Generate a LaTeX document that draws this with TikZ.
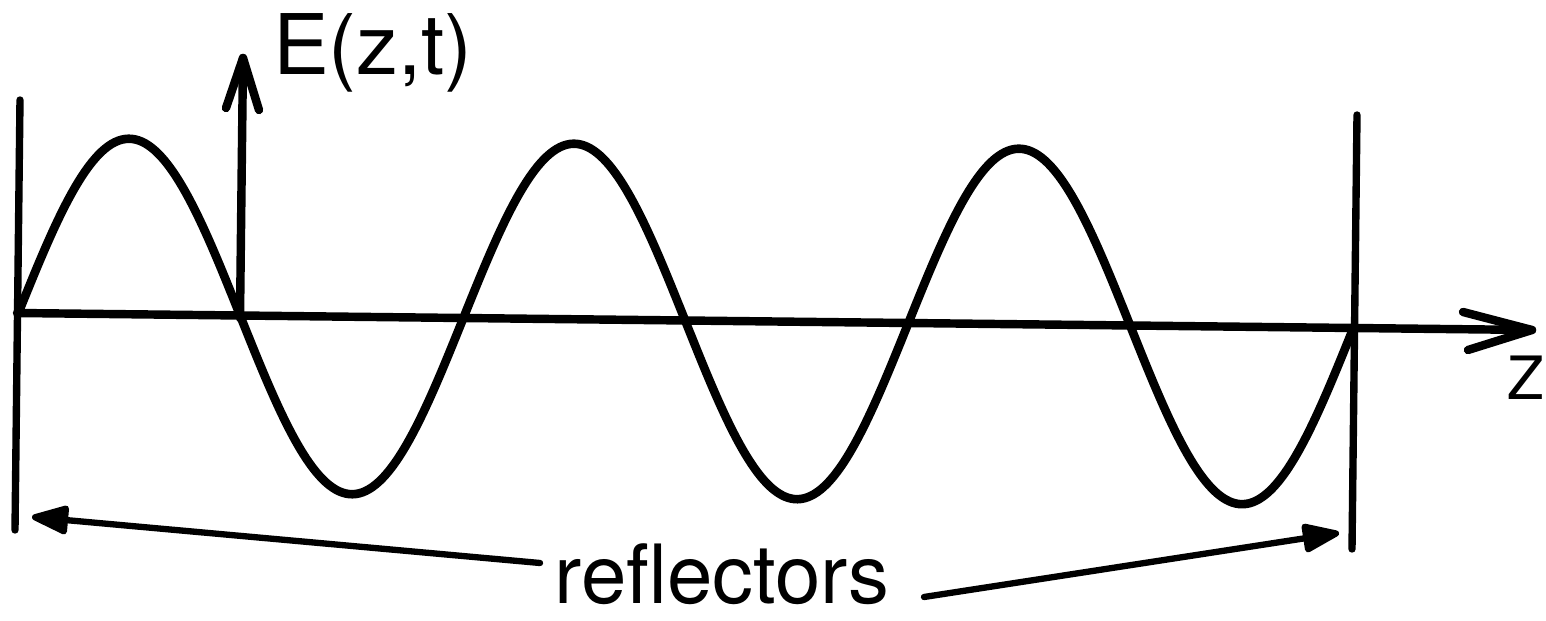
\documentclass[tikz,border=0pt]{standalone}
\usepackage{fontspec}
\setmainfont{TeX Gyre Heros}
\usetikzlibrary{arrows.meta}
\tikzset{
  ink/.style={line cap=round, line join=round, draw=black},
  axisline/.style={ink, line width=4.8pt},
  reflline/.style={ink, line width=4.2pt},
  waveline/.style={ink, line width=4.9pt},
  pointer/.style={ink, line width=3.6pt, -{Triangle[length=0.85cm,width=0.6cm,round]}},
  lbl/.style={inner sep=0pt, outer sep=0pt},
}
\begin{document}
\begin{tikzpicture}[x=0.02cm, y=-0.02cm]
\useasboundingbox (0,0) rectangle (1546,621);
% reflectors
\coordinate (rlTop) at (20,100);
\coordinate (rlBot) at (15,530);
\coordinate (rrTop) at (1357,115);
\coordinate (rrBot) at (1352,549);
\draw[reflline] (rlTop) -- (rlBot);
\draw[reflline] (rrTop) -- (rrBot);
% z axis
\coordinate (zStart) at (17,313);
\coordinate (zTip) at (1532,330);
\coordinate (zBarbA) at (1463,312);
\coordinate (zBarbB) at (1468,350);
\draw[axisline] (zStart) -- (zTip);
\draw[axisline] (zBarbA) -- (zTip) -- (zBarbB);
% E axis
\coordinate (eStart) at (240,318);
\coordinate (eTip) at (243,58);
\coordinate (eBarbA) at (226,108);
\coordinate (eBarbB) at (259,110);
\draw[axisline] (eStart) -- (eTip);
\draw[axisline] (eBarbA) -- (eTip) -- (eBarbB);
% wave
\draw[waveline] plot[domain=18:1353, samples=400, smooth]
  (\x, {314 + 0.0112*(\x-18) - 176.5*sin(0.80899*(\x-18))});
% labels
\node[lbl, anchor=base west, font=\fontsize{47.6pt}{50pt}\selectfont] (elabel) at (273,75) {E(z,t)};
\node[lbl, anchor=base west, text depth=0pt, font=\fontsize{34pt}{36pt}\selectfont] (zlabel) at (1507,400) {Z};
\node[lbl, anchor=base, text depth=0pt, font=\fontsize{46.5pt}{49pt}\selectfont] (refl) at (722,603) {reflectors};
% pointers
\coordinate (plStart) at (540,563);
\coordinate (plTip) at (32,517);
\coordinate (prStart) at (924,597);
\coordinate (prTip) at (1339,533);
\draw[pointer] (plStart) -- (plTip);
\draw[pointer] (prStart) -- (prTip);
\end{tikzpicture}
\end{document}
